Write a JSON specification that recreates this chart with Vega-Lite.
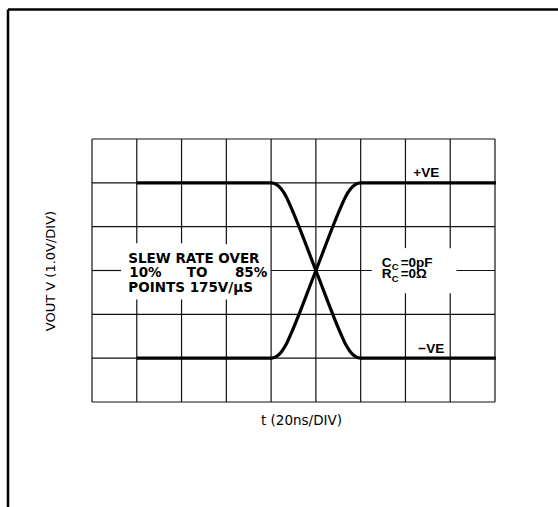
{
  "$schema": "https://vega.github.io/schema/vega-lite/v6.json",
  "autosize": {"type": "none"},
  "width": 403,
  "height": 263,
  "padding": {"left": 92, "top": 139, "right": 63, "bottom": 105},
  "background": "white",
  "config": {"view": {"stroke": null}},
  "datasets": {
    "grid": [
      {"x": 0, "x2": 0, "y": 0, "y2": 6},
      {"x": 1, "x2": 1, "y": 0, "y2": 2.34},
      {"x": 1, "x2": 1, "y": 3.62, "y2": 6},
      {"x": 2, "x2": 2, "y": 0, "y2": 2.34},
      {"x": 2, "x2": 2, "y": 3.62, "y2": 6},
      {"x": 3, "x2": 3, "y": 0, "y2": 2.34},
      {"x": 3, "x2": 3, "y": 3.6, "y2": 6},
      {"x": 4, "x2": 4, "y": 0, "y2": 6},
      {"x": 5, "x2": 5, "y": 0, "y2": 6},
      {"x": 6, "x2": 6, "y": 0, "y2": 6},
      {"x": 7, "x2": 7, "y": 0, "y2": 2.48},
      {"x": 7, "x2": 7, "y": 3.51, "y2": 6},
      {"x": 8, "x2": 8, "y": 0, "y2": 2.48},
      {"x": 8, "x2": 8, "y": 3.51, "y2": 6},
      {"x": 9, "x2": 9, "y": 0, "y2": 6},
      {"x": 0, "x2": 9, "y": 0, "y2": 0},
      {"x": 0, "x2": 9, "y": 1, "y2": 1},
      {"x": 0, "x2": 9, "y": 2, "y2": 2},
      {"x": 0, "x2": 0.65, "y": 3, "y2": 3},
      {"x": 4, "x2": 6.25, "y": 3, "y2": 3},
      {"x": 8.14, "x2": 9, "y": 3, "y2": 3},
      {"x": 0, "x2": 9, "y": 4, "y2": 4},
      {"x": 0, "x2": 9, "y": 5, "y2": 5},
      {"x": 0, "x2": 9, "y": 6, "y2": 6}
    ],
    "border": [
      {"x": -1.876, "x2": 10.5, "y": 8.955, "y2": 8.955},
      {"x": -1.876, "x2": -1.876, "y": 8.955, "y2": -2.5}
    ],
    "traces": [
      {"series": "+VE", "x": 1, "y": 1},
      {"series": "+VE", "x": 4, "y": 1},
      {"series": "+VE", "x": 4.115, "y": 1.036},
      {"series": "+VE", "x": 4.228, "y": 1.142},
      {"series": "+VE", "x": 4.34, "y": 1.321},
      {"series": "+VE", "x": 4.45, "y": 1.57},
      {"series": "+VE", "x": 5, "y": 3},
      {"series": "+VE", "x": 5.55, "y": 4.43},
      {"series": "+VE", "x": 5.66, "y": 4.679},
      {"series": "+VE", "x": 5.772, "y": 4.858},
      {"series": "+VE", "x": 5.885, "y": 4.964},
      {"series": "+VE", "x": 6, "y": 5},
      {"series": "+VE", "x": 9.02, "y": 5},
      {"series": "-VE", "x": 1, "y": 5},
      {"series": "-VE", "x": 4, "y": 5},
      {"series": "-VE", "x": 4.115, "y": 4.964},
      {"series": "-VE", "x": 4.228, "y": 4.858},
      {"series": "-VE", "x": 4.34, "y": 4.679},
      {"series": "-VE", "x": 4.45, "y": 4.43},
      {"series": "-VE", "x": 5, "y": 3},
      {"series": "-VE", "x": 5.55, "y": 1.57},
      {"series": "-VE", "x": 5.66, "y": 1.321},
      {"series": "-VE", "x": 5.772, "y": 1.142},
      {"series": "-VE", "x": 5.885, "y": 1.036},
      {"series": "-VE", "x": 6, "y": 1},
      {"series": "-VE", "x": 9.02, "y": 1}
    ],
    "notesLeft": [
      {"x": 0.81, "y": 3.18, "label": "SLEW RATE OVER"},
      {"x": 0.833, "y": 2.859, "label": "10%"},
      {"x": 2.115, "y": 2.859, "label": "TO"},
      {"x": 3.193, "y": 2.859, "label": "85%"},
      {"x": 0.811, "y": 2.516, "label": "POINTS 175V/µS"}
    ],
    "notesRight": [
      {"x": 6.47, "y": 3.091, "label": "C"},
      {"x": 6.894, "y": 3.091, "label": "=0pF"},
      {"x": 6.47, "y": 2.829, "label": "R"},
      {"x": 6.894, "y": 2.829, "label": "=0Ω"},
      {"x": 7.175, "y": 5.127, "label": "+VE"},
      {"x": 7.287, "y": 1.111, "label": "−VE"}
    ],
    "subs": [
      {"x": 6.694, "y": 3.012, "label": "C"},
      {"x": 6.694, "y": 2.749, "label": "C"}
    ]
  },
  "encoding": {
    "x": {
      "field": "x",
      "type": "quantitative",
      "scale": {"domain": [0, 9], "nice": false, "zero": false},
      "axis": {
        "title": "t (20ns/DIV)",
        "labels": false,
        "ticks": false,
        "domain": false,
        "grid": false,
        "titleFont": "DejaVu Sans",
        "titleFontSize": 13.5,
        "titleFontWeight": "normal",
        "titleColor": "#000",
        "titlePadding": 11,
        "titleX": 209
      }
    },
    "y": {
      "field": "y",
      "type": "quantitative",
      "scale": {"domain": [0, 6], "nice": false, "zero": false},
      "axis": {
        "title": "VOUT V (1.0V/DIV)",
        "labels": false,
        "ticks": false,
        "domain": false,
        "grid": false,
        "titleFont": "DejaVu Sans",
        "titleFontSize": 13,
        "titleFontWeight": "normal",
        "titleColor": "#000",
        "titlePadding": 35
      }
    }
  },
  "layer": [
    {
      "data": {"name": "grid"},
      "mark": {"type": "rule", "color": "#111", "strokeWidth": 1.2},
      "encoding": {"x2": {"field": "x2"}, "y2": {"field": "y2"}}
    },
    {
      "data": {"name": "border"},
      "mark": {"type": "rule", "color": "#000", "strokeWidth": 2.5},
      "encoding": {"x2": {"field": "x2"}, "y2": {"field": "y2"}}
    },
    {
      "data": {"name": "traces"},
      "mark": {"type": "line", "color": "#000", "strokeWidth": 3.2, "interpolate": "monotone"},
      "encoding": {"detail": {"field": "series"}}
    },
    {
      "data": {"name": "notesLeft"},
      "mark": {"type": "text", "align": "left", "baseline": "alphabetic", "font": "DejaVu Sans", "fontSize": 13.5, "fontWeight": "bold", "color": "#000"},
      "encoding": {"text": {"field": "label"}}
    },
    {
      "data": {"name": "notesRight"},
      "mark": {"type": "text", "align": "left", "baseline": "alphabetic", "font": "Liberation Sans", "fontSize": 13.5, "fontWeight": "bold", "color": "#000"},
      "encoding": {"text": {"field": "label"}}
    },
    {
      "data": {"name": "subs"},
      "mark": {"type": "text", "align": "left", "baseline": "alphabetic", "font": "Liberation Sans", "fontSize": 9.5, "fontWeight": "bold", "color": "#000"},
      "encoding": {"text": {"field": "label"}}
    }
  ]
}
